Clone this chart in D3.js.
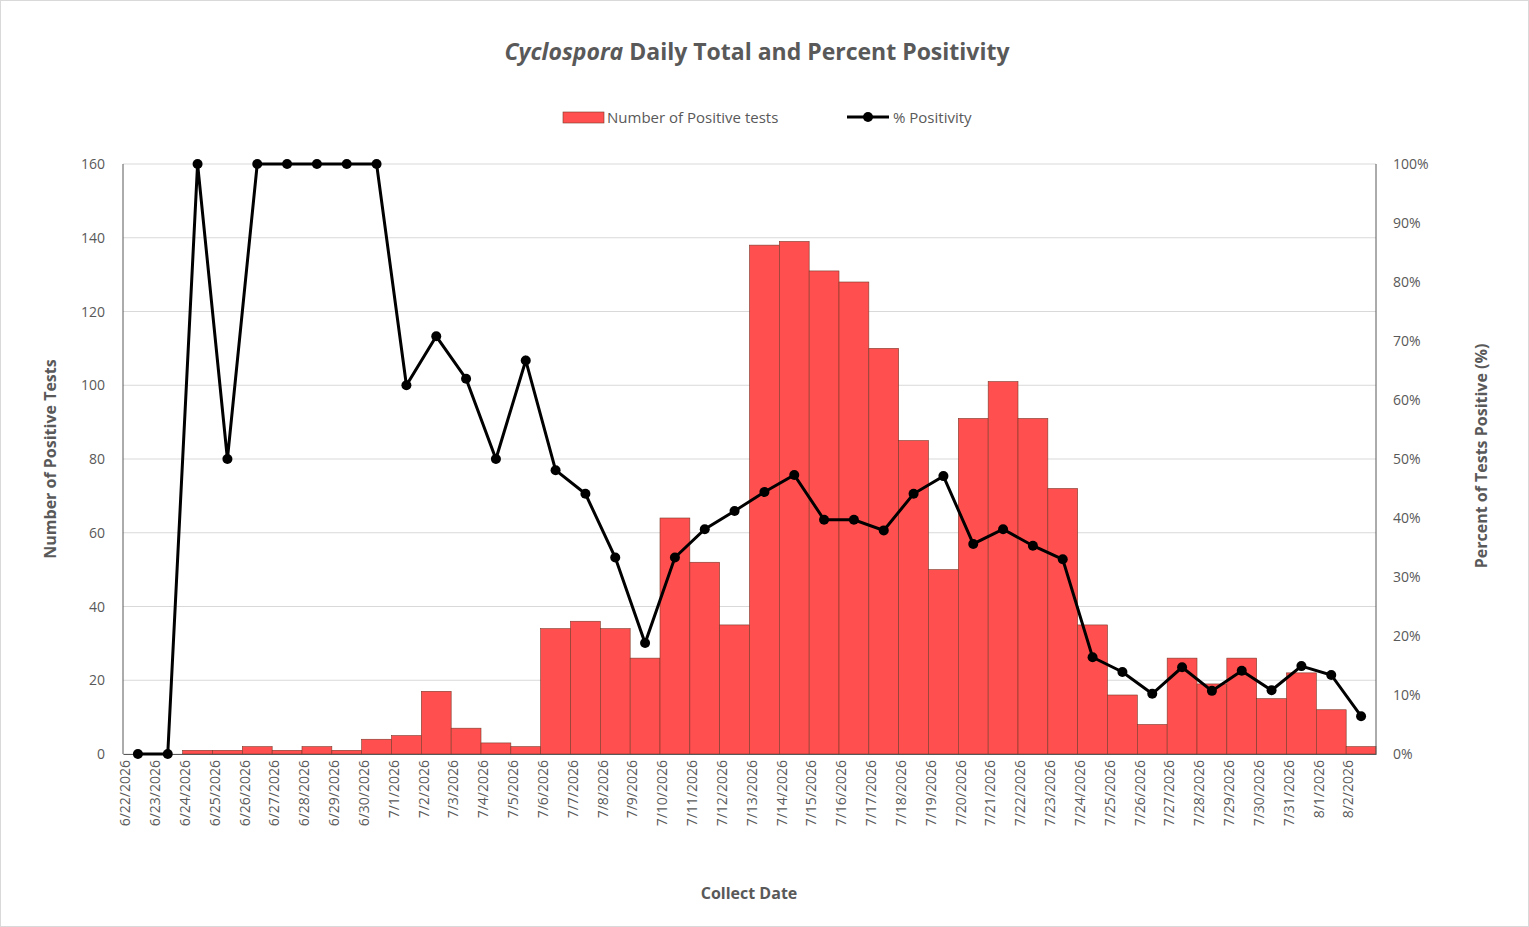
<!DOCTYPE html>
<html><head><meta charset="utf-8">
<script src="https://cdn.jsdelivr.net/npm/d3@7"></script>
<style>body{margin:0;background:#fff;font-family:"Open Sans","Liberation Sans",sans-serif}</style>
</head><body><svg id="c" width="1529" height="927"></svg>
<script>
const dates=["6/22/2026","6/23/2026","6/24/2026","6/25/2026","6/26/2026","6/27/2026","6/28/2026","6/29/2026","6/30/2026","7/1/2026","7/2/2026","7/3/2026","7/4/2026","7/5/2026","7/6/2026","7/7/2026","7/8/2026","7/9/2026","7/10/2026","7/11/2026","7/12/2026","7/13/2026","7/14/2026","7/15/2026","7/16/2026","7/17/2026","7/18/2026","7/19/2026","7/20/2026","7/21/2026","7/22/2026","7/23/2026","7/24/2026","7/25/2026","7/26/2026","7/27/2026","7/28/2026","7/29/2026","7/30/2026","7/31/2026","8/1/2026","8/2/2026"];
const positives=[0,0,1,1,2,1,2,1,4,5,17,7,3,2,34,36,34,26,64,52,35,138,139,131,128,110,85,50,91,101,91,72,35,16,8,26,19,26,15,22,12,2];
const positivity=[0,0,100,50,100,100,100,100,100,62.5,70.8,63.6,50,66.7,48.1,44.1,33.3,18.8,33.3,38.1,41.2,44.4,47.3,39.7,39.7,37.9,44.1,47.1,35.6,38.1,35.3,33,16.4,13.9,10.2,14.7,10.7,14.1,10.8,14.9,13.4,6.4];
const leftTicks=[0,20,40,60,80,100,120,140,160];
const rightTicks=[0,10,20,30,40,50,60,70,80,90,100];
const svg=d3.select("#c");
const L=123,R=1376,T=164,B=754,gray="#595959";
svg.append("rect").attr("x",0.5).attr("y",0.5).attr("width",1528).attr("height",926).attr("fill","#fff").attr("stroke","#d9d9d9");
const x=d3.scaleBand().domain(dates).range([L,R]).padding(0);
const y=d3.scaleLinear().domain([0,160]).range([B,T]);
const y2=d3.scaleLinear().domain([0,100]).range([B,T]);
svg.append("g").selectAll("line").data(leftTicks).join("line").attr("x1",L).attr("x2",R).attr("y1",d=>y(d)).attr("y2",d=>y(d)).attr("stroke","#d9d9d9");
svg.append("g").selectAll("rect").data(positives).join("rect").attr("x",(d,i)=>x(dates[i])).attr("width",x.bandwidth()).attr("y",d=>y(d)).attr("height",d=>B-y(d)).attr("fill","#ff4f4f").attr("stroke","#7a3a2a").attr("stroke-width",0.6);
const ax=svg.append("g").attr("transform",`translate(0,${B})`).call(d3.axisBottom(x).tickSize(0));
ax.select(".domain").attr("stroke","#595959");
ax.selectAll("text").attr("transform","rotate(-90)").attr("text-anchor","end").attr("dx","-6").attr("dy","-0.55em").attr("x",0).attr("y",0).attr("font-size",14).attr("fill",gray).attr("font-family","Open Sans, sans-serif");
svg.append("line").attr("x1",L).attr("x2",L).attr("y1",T).attr("y2",B).attr("stroke","#595959");
svg.append("line").attr("x1",R).attr("x2",R).attr("y1",T).attr("y2",B).attr("stroke","#595959");
svg.append("g").selectAll("text").data(leftTicks).join("text").attr("x",L-18).attr("y",d=>y(d)+5).attr("text-anchor","end").attr("font-size",14).attr("fill",gray).text(d=>d);
svg.append("g").selectAll("text").data(rightTicks).join("text").attr("x",R+17).attr("y",d=>y2(d)+5).attr("text-anchor","start").attr("font-size",14).attr("fill",gray).text(d=>d+"%");
const cx=(d,i)=>x(dates[i])+x.bandwidth()/2;
svg.append("path").datum(positivity).attr("d",d3.line().x(cx).y(d=>y2(d))).attr("fill","none").attr("stroke","#000").attr("stroke-width",3);
svg.append("g").selectAll("circle").data(positivity).join("circle").attr("cx",cx).attr("cy",d=>y2(d)).attr("r",5).attr("fill","#000");
const t=svg.append("text").attr("x",757).attr("y",60).attr("text-anchor","middle").attr("font-size",23).attr("font-weight","bold").attr("fill",gray);
t.append("tspan").attr("font-style","italic").text("Cyclospora");
t.append("tspan").text(" Daily Total and Percent Positivity");
svg.append("text").attr("x",749).attr("y",899).attr("text-anchor","middle").attr("font-size",16).attr("font-weight","bold").attr("fill",gray).text("Collect Date");
svg.append("text").attr("transform","translate(56,459) rotate(-90)").attr("text-anchor","middle").attr("font-size",16).attr("font-weight","bold").attr("fill",gray).text("Number of Positive Tests");
svg.append("text").attr("transform","translate(1487,456) rotate(-90)").attr("text-anchor","middle").attr("font-size",16).attr("font-weight","bold").attr("fill",gray).text("Percent of Tests Positive (%)");
svg.append("rect").attr("x",563).attr("y",112).attr("width",41).attr("height",11).attr("fill","#ff4f4f").attr("stroke","#7a3a2a").attr("stroke-width",0.6);
svg.append("text").attr("x",607).attr("y",123).attr("font-size",15).attr("fill",gray).text("Number of Positive tests");
svg.append("line").attr("x1",847).attr("x2",889).attr("y1",117).attr("y2",117).attr("stroke","#000").attr("stroke-width",3);
svg.append("circle").attr("cx",868).attr("cy",117).attr("r",5).attr("fill","#000");
svg.append("text").attr("x",893).attr("y",123).attr("font-size",15).attr("fill",gray).text("% Positivity");
</script></body></html>
